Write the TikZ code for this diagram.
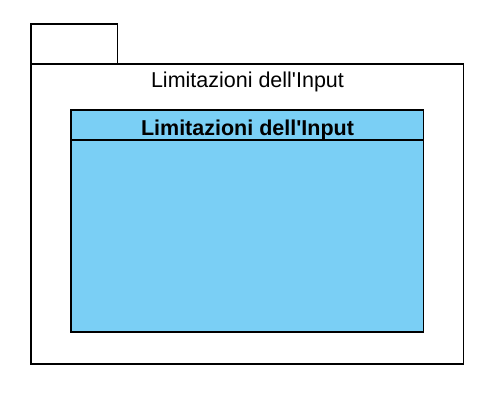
\documentclass[tikz,border=0pt]{standalone}
\usepackage{fontspec}
\setmainfont{Liberation Sans}
\definecolor{classblue}{HTML}{7ACFF5}
\begin{document}
\begin{tikzpicture}[x=1pt,y=-1pt,
  edge/.style={draw=black,line width=1.5pt},
  pkgtext/.style={font=\fontsize{21.5}{24}\selectfont,inner sep=0pt,anchor=base},
  classtitle/.style={font=\fontsize{21.5}{24}\selectfont\bfseries,inner sep=0pt,anchor=base}]
\useasboundingbox (0,0) rectangle (500,400);
\fill[white] (0,0) rectangle (500,400);
% package tab and body
\draw[edge,fill=white] (31,24) rectangle (117.5,64);
\draw[edge,fill=white] (31,64) rectangle (463.5,364);
\node[pkgtext] (pkgname) at (247.5,87.5) {Limitazioni dell\textquotesingle Input};
% class box
\draw[edge,fill=classblue] (71,110) rectangle (423.5,332);
\draw[edge] (71,140) -- (423.5,140);
\node[classtitle] (clsname) at (247.5,135) {Limitazioni dell\textquotesingle Input};
\end{tikzpicture}
\end{document}
